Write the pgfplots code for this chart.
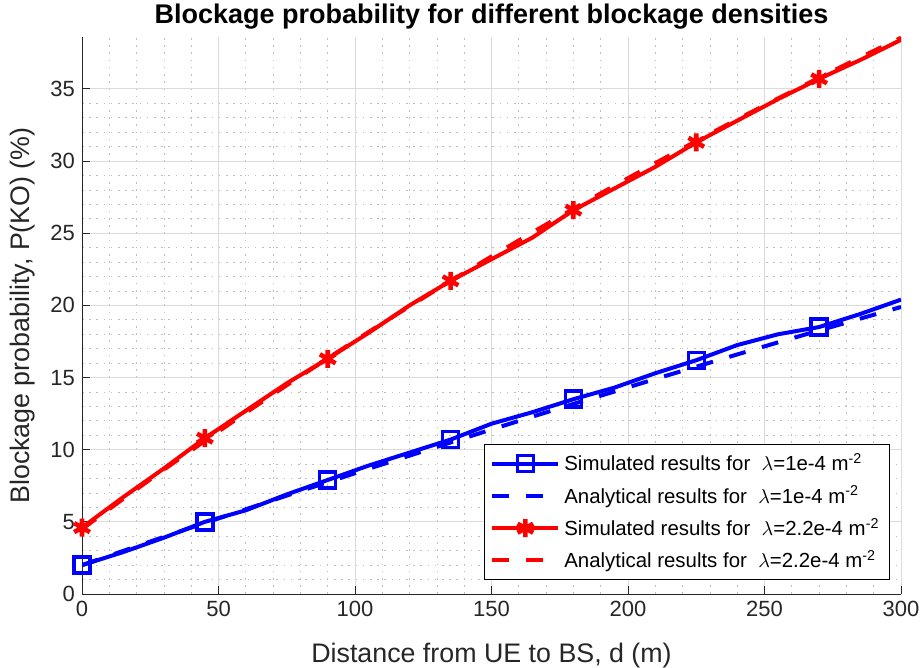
\documentclass[border=0pt]{standalone}
\usepackage{pgfplots}
\usepackage{pgfplotstable}
\pgfplotsset{compat=1.18}
\usepackage{fontspec}
\setmainfont{Liberation Sans}
\definecolor{axgray}{RGB}{38,38,38}
\definecolor{mblue}{RGB}{0,0,255}
\definecolor{mred}{RGB}{255,0,0}

\pgfplotstableread{
d sim ana
0 2.0 2.00
15 2.9 2.98
30 3.9 3.96
45 5.0 4.92
60 5.8 5.87
75 6.9 6.82
90 7.9 7.75
105 8.9 8.68
120 9.8 9.59
135 10.7 10.50
150 11.8 11.40
165 12.6 12.29
180 13.5 13.17
195 14.3 14.03
210 15.3 14.90
225 16.2 15.75
240 17.25 16.60
255 18.0 17.44
270 18.5 18.26
285 19.4 19.08
300 20.4 19.89
}\blue

\pgfplotstableread{
d sim ana
0 4.6 4.50
15 6.7 6.58
30 8.7 8.62
45 10.8 10.61
60 12.7 12.56
75 14.6 14.47
90 16.3 16.33
105 18.1 18.16
120 20.0 19.94
135 21.7 21.69
150 23.2 23.39
165 24.7 25.06
180 26.6 26.70
195 28.1 28.29
210 29.6 29.86
225 31.3 31.39
240 32.8 32.89
255 34.3 34.35
270 35.7 35.78
285 37.0 37.18
300 38.4 38.55
}\red

\begin{document}
\begin{tikzpicture}
\begin{axis}[
  name=ax,
  scale only axis,
  width=409.5pt, height=278.5pt,
  xmin=0, xmax=300, ymin=0, ymax=38.6,
  xtick={0,50,...,300}, ytick={0,5,...,35},
  minor x tick num=4, minor y tick num=4,
  axis lines*=left,
  axis line style={axgray, line width=0.5pt},
  every tick/.style={axgray, line width=0.5pt},
  tick align=inside,
  major tick length=4pt, minor tick length=0pt,
  tick label style={font=\fontsize{11}{13}\selectfont, text=axgray},
  /pgf/number format/assume math mode=true,
  grid=both,
  major grid style={gray!28, line width=0.5pt},
  minor grid style={gray!50, line width=0.4pt, dash pattern=on 0.8pt off 2.8pt},
  title={\textbf{Blockage probability for different blockage densities}},
  title style={font=\fontsize{13.5}{15}\selectfont, text=black, at={(axis description cs:0.5,1.0153)}, anchor=center},
  xlabel={Distance from UE to BS, d (m)},
  ylabel={Blockage probability, P(KO) (\%)},
  label style={font=\fontsize{13.4}{15}\selectfont, text=axgray},
  xlabel style={at={(axis description cs:0.5,-0.1113)}, anchor=center},
  ylabel style={at={(axis description cs:-0.0727,0.5)}, anchor=center},
  legend style={at={(0.9865,0.025)}, anchor=south east, draw=black, line width=0.5pt,
    font=\fontsize{10.2}{12}\selectfont, fill=white, row sep=2pt, inner xsep=3pt, inner ysep=2.5pt},
  legend cell align=left,
  legend image code/.code={\draw[#1, mark indices={2}] plot coordinates {(0pt,0pt) (16.5pt,0pt) (33pt,0pt)};},
]
\addplot[mblue, line width=2pt, mark=square, mark size=4pt,
  mark options={solid, fill=white, line width=1.7pt}, mark indices={1,4,7,10,13,16,19}] table[x=d,y=sim] {\blue};
\addlegendentry{Simulated results for \ $\lambda$=1e-4 m\textsuperscript{-2}}
\addplot[mblue, line width=2pt, dash pattern=on 8.5pt off 8.5pt] table[x=d,y=ana] {\blue};
\addlegendentry{Analytical results for \ $\lambda$=1e-4 m\textsuperscript{-2}}
\addplot[mred, line width=2pt, mark=asterisk, mark size=4.5pt,
  mark options={solid, line width=2.3pt}, mark indices={1,4,7,10,13,16,19}] table[x=d,y=sim] {\red};
\addlegendentry{Simulated results for \ $\lambda$=2.2e-4 m\textsuperscript{-2}}
\addplot[mred, line width=2pt, dash pattern=on 8.5pt off 8.5pt] table[x=d,y=ana] {\red};
\addlegendentry{Analytical results for \ $\lambda$=2.2e-4 m\textsuperscript{-2}}
\end{axis}
\pgfresetboundingbox
\path[use as bounding box] ([xshift=-41pt,yshift=-36.5pt]ax.south west) rectangle ([xshift=10.5pt,yshift=18.5pt]ax.north east);
\end{tikzpicture}
\end{document}
